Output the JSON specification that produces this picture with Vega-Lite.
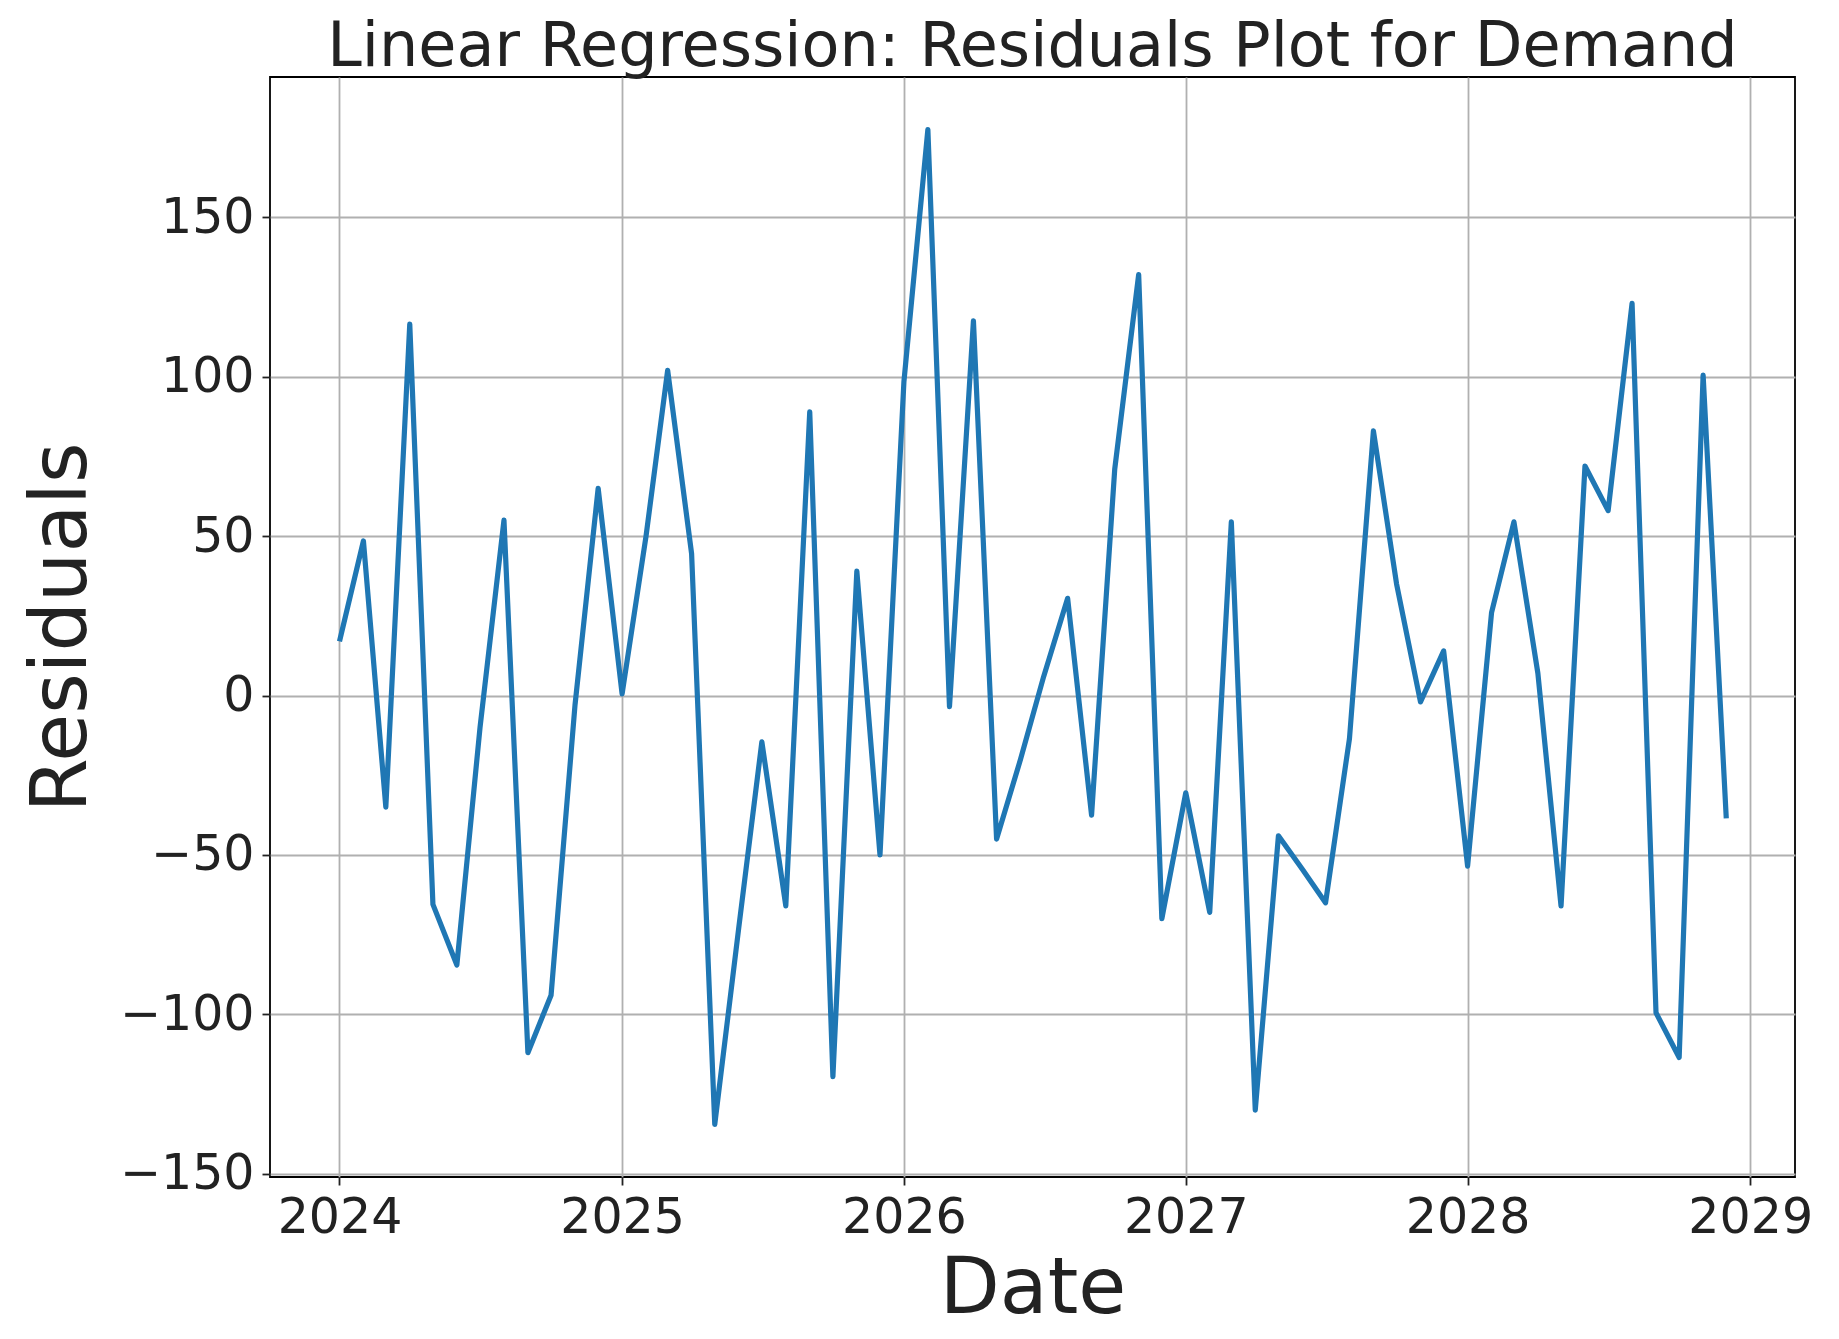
{
  "$schema": "https://vega.github.io/schema/vega-lite/v6.json",
  "width": 1525,
  "height": 1100,
  "autosize": {"type": "none"},
  "padding": {"left": 270, "top": 77, "right": 44, "bottom": 162},
  "background": "white",
  "title": {
    "text": "Linear Regression: Residuals Plot for Demand",
    "font": "DejaVu Sans",
    "fontSize": 62,
    "fontWeight": "normal",
    "color": "#222222",
    "anchor": "middle",
    "offset": -2
  },
  "config": {
    "view": {"stroke": "#000000", "strokeWidth": 1.8},
    "axis": {
      "labelFont": "DejaVu Sans",
      "titleFont": "DejaVu Sans",
      "labelFontSize": 49,
      "titleFontSize": 78,
      "titleFontWeight": "normal",
      "labelColor": "#222222",
      "titleColor": "#222222",
      "grid": true,
      "gridColor": "#b0b0b0",
      "gridWidth": 1.8,
      "domain": false,
      "ticks": true,
      "tickColor": "#222222",
      "tickWidth": 1.8,
      "tickSize": 8,
      "labelPadding": 6
    }
  },
  "data": {
    "values": [
      {"date": "2024-01-01", "residual": 17},
      {"date": "2024-02-01", "residual": 48.5},
      {"date": "2024-03-01", "residual": -35},
      {"date": "2024-04-01", "residual": 116.5},
      {"date": "2024-05-01", "residual": -65.5},
      {"date": "2024-06-01", "residual": -84.5},
      {"date": "2024-07-01", "residual": -10},
      {"date": "2024-08-01", "residual": 55},
      {"date": "2024-09-01", "residual": -112},
      {"date": "2024-10-01", "residual": -94},
      {"date": "2024-11-01", "residual": -3},
      {"date": "2024-12-01", "residual": 65},
      {"date": "2025-01-01", "residual": 0.5},
      {"date": "2025-02-01", "residual": 50},
      {"date": "2025-03-01", "residual": 102},
      {"date": "2025-04-01", "residual": 44.5},
      {"date": "2025-05-01", "residual": -134.5},
      {"date": "2025-06-01", "residual": -73},
      {"date": "2025-07-01", "residual": -14.5},
      {"date": "2025-08-01", "residual": -66},
      {"date": "2025-09-01", "residual": 89},
      {"date": "2025-10-01", "residual": -119.5},
      {"date": "2025-11-01", "residual": 39},
      {"date": "2025-12-01", "residual": -50},
      {"date": "2026-01-01", "residual": 98.5},
      {"date": "2026-02-01", "residual": 177.5},
      {"date": "2026-03-01", "residual": -3.5},
      {"date": "2026-04-01", "residual": 117.5},
      {"date": "2026-05-01", "residual": -45},
      {"date": "2026-06-01", "residual": -20},
      {"date": "2026-07-01", "residual": 6},
      {"date": "2026-08-01", "residual": 30.5},
      {"date": "2026-09-01", "residual": -37.5},
      {"date": "2026-10-01", "residual": 71},
      {"date": "2026-11-01", "residual": 132},
      {"date": "2026-12-01", "residual": -70},
      {"date": "2027-01-01", "residual": -30.5},
      {"date": "2027-02-01", "residual": -68},
      {"date": "2027-03-01", "residual": 54.5},
      {"date": "2027-04-01", "residual": -130},
      {"date": "2027-05-01", "residual": -44},
      {"date": "2027-06-01", "residual": -54.5},
      {"date": "2027-07-01", "residual": -65},
      {"date": "2027-08-01", "residual": -13.5},
      {"date": "2027-09-01", "residual": 83},
      {"date": "2027-10-01", "residual": 35},
      {"date": "2027-11-01", "residual": -2},
      {"date": "2027-12-01", "residual": 14},
      {"date": "2028-01-01", "residual": -53.5},
      {"date": "2028-02-01", "residual": 26},
      {"date": "2028-03-01", "residual": 54.5},
      {"date": "2028-04-01", "residual": 7},
      {"date": "2028-05-01", "residual": -66},
      {"date": "2028-06-01", "residual": 72},
      {"date": "2028-07-01", "residual": 58},
      {"date": "2028-08-01", "residual": 123},
      {"date": "2028-09-01", "residual": -99.5},
      {"date": "2028-10-01", "residual": -113.5},
      {"date": "2028-11-01", "residual": 100.5},
      {"date": "2028-12-01", "residual": -38.5}
    ]
  },
  "mark": {"type": "line", "color": "#1f77b4", "strokeWidth": 5.2, "strokeJoin": "round"},
  "encoding": {
    "x": {
      "field": "date",
      "type": "temporal",
      "scale": {"domain": ["2023-10-03", "2029-02-28"], "nice": false},
      "axis": {
        "title": "Date",
        "format": "%Y",
        "values": [
          {"year": 2024, "month": 1, "date": 1},
          {"year": 2025, "month": 1, "date": 1},
          {"year": 2026, "month": 1, "date": 1},
          {"year": 2027, "month": 1, "date": 1},
          {"year": 2028, "month": 1, "date": 1},
          {"year": 2029, "month": 1, "date": 1}
        ],
        "labelPadding": 8,
        "titlePadding": 8
      }
    },
    "y": {
      "field": "residual",
      "type": "quantitative",
      "scale": {"domain": [-151, 194], "nice": false, "zero": false},
      "axis": {
        "title": "Residuals",
        "values": [-150, -100, -50, 0, 50, 100, 150],
        "labelPadding": 8,
        "titlePadding": 18
      }
    }
  }
}
